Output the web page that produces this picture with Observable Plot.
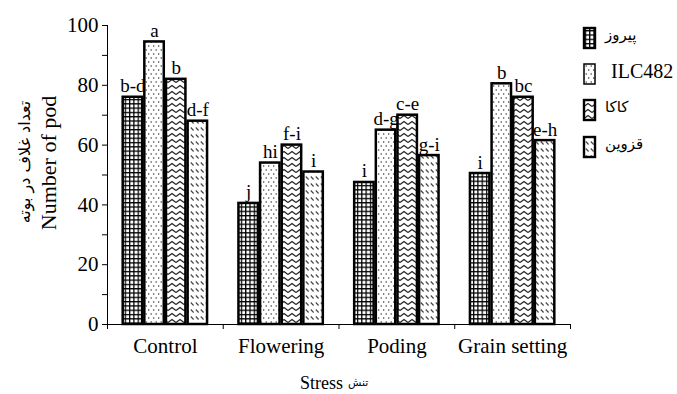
<!DOCTYPE html>
<html><head><meta charset="utf-8">
<script src="https://cdn.jsdelivr.net/npm/d3@7"></script>
<script src="https://cdn.jsdelivr.net/npm/@observablehq/plot@0.6"></script>
<style>
body{margin:0;background:#fff}
#chart{position:relative;width:677px;height:394px}
#chart svg text{font-family:'Liberation Serif','Times New Roman',serif}
</style>
</head><body>
<svg width="0" height="0" style="position:absolute">
<defs>
<pattern id="pat0" patternUnits="userSpaceOnUse" width="4.3" height="4.3">
  <rect width="4.3" height="4.3" fill="#fff"/>
  <path d="M0 0.6H4.3M0.6 0V4.3" stroke="#000" stroke-width="1.3"/>
</pattern>
<pattern id="pat1" patternUnits="userSpaceOnUse" width="5" height="8">
  <rect width="5" height="8" fill="#fff"/>
  <circle cx="1.2" cy="2" r="0.75" fill="#333"/>
  <circle cx="3.7" cy="6" r="0.75" fill="#333"/>
</pattern>
<pattern id="pat2" patternUnits="userSpaceOnUse" width="8" height="6">
  <rect width="8" height="6" fill="#fff"/>
  <path d="M0 4.5L4 1.5L8 4.5" fill="none" stroke="#222" stroke-width="1.2"/>
</pattern>
<pattern id="pat3" patternUnits="userSpaceOnUse" width="5" height="7">
  <rect width="5" height="7" fill="#fff"/>
  <path d="M0.8 1.5L3.6 4.5" stroke="#444" stroke-width="1.1"/>
</pattern>
</defs>
</svg>
<div id="chart"></div>
<script>
const stages = ["Control", "Flowering", "Poding", "Grain setting"];
const varieties = ["پیروز", "ILC482", "کاکا", "قزوین"];
const pirooz = [76, 40.5, 47.5, 50.5];
const ilc482 = [94.5, 54, 65, 80.5];
const kaka = [82, 60, 70, 76];
const qazvin = [68, 51, 56.5, 61.5];
const lettersPirooz = ["b-d", "j", "i", "i"];
const lettersIlc = ["a", "hi", "d-g", "b"];
const lettersKaka = ["b", "f-i", "c-e", "bc"];
const lettersQazvin = ["d-f", "i", "g-i", "e-h"];
const yMajor = [0, 20, 40, 60, 80, 100];
const yMinor = [10, 30, 50, 70, 90];

const series = [pirooz, ilc482, kaka, qazvin];
const letterSets = [lettersPirooz, lettersIlc, lettersKaka, lettersQazvin];
const step = 0.187, half = 0.084;
const data = [];
stages.forEach((s, si) => {
  series.forEach((vals, vj) => {
    const c = si + 0.5 + (vj - 1.5) * step;
    data.push({stage: s, variety: varieties[vj], vj, value: vals[si], letter: letterSets[vj][si], x1: c - half, x2: c + half, xc: c});
  });
});

const serif = "'Liberation Serif', 'Times New Roman', serif";
const arabic = "'DejaVu Sans', sans-serif";

const chart = Plot.plot({
  width: 677, height: 394,
  marginLeft: 107, marginRight: 107, marginTop: 25, marginBottom: 70,
  style: {fontFamily: serif, color: "#000", background: "#fff"},
  x: {type: "linear", domain: [0, 4]},
  y: {domain: [0, 100]},
  color: {type: "identity"},
  marks: [
    Plot.rectY(data, {x1: "x1", x2: "x2", y: "value", fill: d => `url(#pat${d.vj})`, stroke: "#000", strokeWidth: 2.5}),
    Plot.text(data, {x: "xc", y: "value", text: "letter", lineAnchor: "bottom", dy: -5, fontSize: 19, fontFamily: serif, fill: "#000"}),
    Plot.axisY({ticks: yMajor, tickSize: 5, tickPadding: 4, fontSize: 21, fontFamily: serif, label: null, tickFormat: d => String(d)}),
    Plot.axisY({ticks: yMinor, tickSize: 5, text: null, label: null}),
    Plot.axisX({ticks: [0, 1, 2, 3, 4], tickSize: 5, text: null, label: null}),
    Plot.axisX({ticks: stages.map((s, i) => i + 0.5), tickSize: 0, tickPadding: 14, fontSize: 21, fontFamily: serif, label: null, tickFormat: d => stages[Math.floor(d)]}),
    Plot.ruleX([0], {stroke: "#000", strokeWidth: 1}),
    Plot.ruleY([0], {stroke: "#000", strokeWidth: 1}),
    Plot.text(["Number of pod"], {frameAnchor: "left", textAnchor: "middle", lineAnchor: "middle", dx: -59, dy: -12, rotate: -90, fontSize: 22, fontFamily: serif, fill: "#000"}),
    Plot.text(["تعداد غلاف در بوته"], {frameAnchor: "left", textAnchor: "middle", lineAnchor: "middle", dx: -83, dy: -13, rotate: -90, fontSize: 16, fontFamily: arabic, fill: "#000"}),
    Plot.text(["Stress"], {frameAnchor: "bottom", textAnchor: "end", lineAnchor: "middle", dx: 4, dy: 59, fontSize: 18, fontFamily: serif, fill: "#000"}),
    Plot.text(["تنش"], {frameAnchor: "bottom", textAnchor: "start", lineAnchor: "middle", dx: 9, dy: 58, fontSize: 11, fontFamily: arabic, fill: "#000"})
  ]
});
document.getElementById("chart").appendChild(chart);
d3.select(chart).selectAll("text").filter(function(){ return /[\u0600-\u06FF]/.test(this.textContent); }).style("font-family", arabic);

// legend
const lg = d3.select(chart).append("g");
const legTop = [28, 64, 100, 137];
varieties.forEach((v, i) => {
  lg.append("rect").attr("x", 584).attr("y", legTop[i]).attr("width", 11).attr("height", 20)
    .attr("fill", `url(#pat${i})`).attr("stroke", "#000").attr("stroke-width", i === 1 ? 1.5 : 2.4);
  const latin = /^[A-Za-z0-9]+$/.test(v);
  lg.append("text").attr("x", latin ? 611 : 605).attr("y", legTop[i] + (latin ? 14 : 12))
    .attr("text-anchor", "start").attr("direction", "ltr")
    .style("font-family", latin ? serif : arabic)
    .style("font-size", latin ? "20px" : "15px").attr("fill", "#000").text(v);
});
</script>
</body></html>
